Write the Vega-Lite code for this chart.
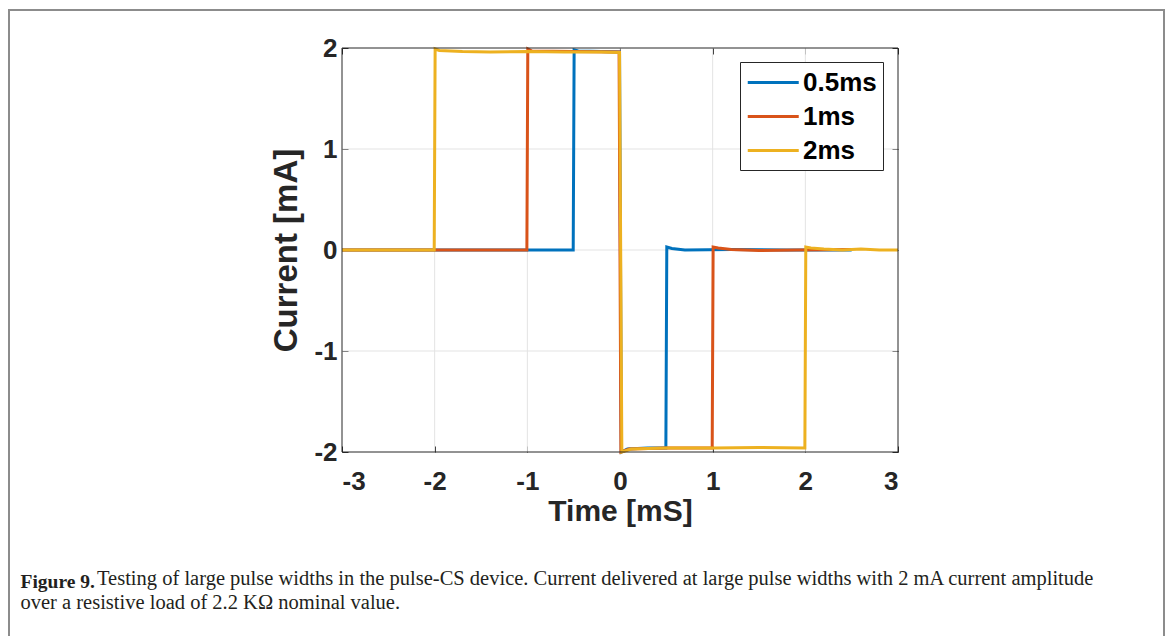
{
  "$schema": "https://vega.github.io/schema/vega-lite/v6.json",
  "autosize": "none",
  "width": 1155,
  "height": 640,
  "padding": {"left": 9, "top": 10, "right": 7, "bottom": 0},
  "background": "white",
  "config": {
    "view": {"stroke": "#8c8c8c", "strokeWidth": 2},
    "axis": {"labelFont": "Liberation Sans", "titleFont": "Liberation Sans", "labelColor": "#262626", "titleColor": "#262626", "tickColor": "#262626", "domainColor": "#262626", "grid": false}
  },
  "title": {
    "text": "Testing of large pulse widths in the pulse-CS device. Current delivered at large pulse widths with 2 mA current amplitude",
    "orient": "top",
    "anchor": "start",
    "frame": "group",
    "offset": -589,
    "dx": 88,
    "baseline": "middle",
    "font": "Liberation Serif",
    "fontSize": 20.5,
    "fontWeight": "normal",
    "color": "#231f20"
  },
  "resolve": {"axis": {"x": "independent", "y": "independent"}},
  "layer": [
    {
      "data": {"values": [{"g": -2}, {"g": -1}, {"g": 0}, {"g": 1}, {"g": 2}]},
      "mark": {"type": "rule", "color": "#e3e3e3", "strokeWidth": 1},
      "encoding": {
        "x": {"field": "g", "type": "quantitative", "scale": {"domain": [-3, 3], "range": [333, 889], "nice": false, "zero": false},
          "axis": {"orient": "top", "offset": -38, "values": [-3, -2, -1, 0, 1, 2, 3], "labels": false, "domain": false, "ticks": true, "tickSize": -6,
            "title": "Figure 9.", "titleFont": "Liberation Serif", "titleFontSize": 19.5, "titleFontWeight": "bold", "titleColor": "#231f20",
            "titleX": 11, "titleY": 533, "titleAngle": 0, "titleAlign": "left", "titleBaseline": "middle", "titleAnchor": null}},
        "y": {"datum": -2, "type": "quantitative", "axis": null},
        "y2": {"datum": 2}
      }
    },
    {
      "data": {"values": [{"g": -1}, {"g": 0}, {"g": 1}]},
      "mark": {"type": "rule", "color": "#e3e3e3", "strokeWidth": 1},
      "encoding": {
        "y": {"field": "g", "type": "quantitative", "scale": {"domain": [-2, 2], "range": [442, 38], "nice": false, "zero": false},
          "axis": {"orient": "right", "offset": -266, "values": [-2, -1, 0, 1, 2], "labels": false, "domain": false, "ticks": true, "tickSize": -6,
            "title": "over a resistive load of 2.2 KΩ nominal value.", "titleFont": "Liberation Serif", "titleFontSize": 20.5, "titleFontWeight": "normal", "titleColor": "#231f20",
            "titleX": -878, "titleY": 592, "titleAngle": 0, "titleAlign": "left", "titleBaseline": "middle", "titleAnchor": null}},
        "x": {"datum": -3, "type": "quantitative", "axis": null},
        "x2": {"datum": 3}
      }
    },
    {
      "data": {"values": [
        {"s": "0.5ms", "t": -3.0, "c": 0.0},
        {"s": "0.5ms", "t": -1.0, "c": 0.0},
        {"s": "0.5ms", "t": -0.505, "c": 0.0},
        {"s": "0.5ms", "t": -0.495, "c": 1.98},
        {"s": "0.5ms", "t": -0.45, "c": 1.97},
        {"s": "0.5ms", "t": -0.2, "c": 1.965},
        {"s": "0.5ms", "t": -0.005, "c": 1.96},
        {"s": "0.5ms", "t": 0.015, "c": -2.0},
        {"s": "0.5ms", "t": 0.08, "c": -1.97},
        {"s": "0.5ms", "t": 0.3, "c": -1.96},
        {"s": "0.5ms", "t": 0.495, "c": -1.96},
        {"s": "0.5ms", "t": 0.505, "c": 0.03},
        {"s": "0.5ms", "t": 0.56, "c": 0.015},
        {"s": "0.5ms", "t": 0.7, "c": 0.0},
        {"s": "0.5ms", "t": 1.2, "c": 0.005},
        {"s": "0.5ms", "t": 1.8, "c": 0.0},
        {"s": "0.5ms", "t": 2.5, "c": 0.0},
        {"s": "1ms", "t": -3.0, "c": 0.0},
        {"s": "1ms", "t": -2.0, "c": 0.0},
        {"s": "1ms", "t": -1.005, "c": 0.0},
        {"s": "1ms", "t": -0.995, "c": 1.99},
        {"s": "1ms", "t": -0.95, "c": 1.97},
        {"s": "1ms", "t": -0.5, "c": 1.965},
        {"s": "1ms", "t": -0.01, "c": 1.96},
        {"s": "1ms", "t": 0.01, "c": -2.0},
        {"s": "1ms", "t": 0.1, "c": -1.97},
        {"s": "1ms", "t": 0.5, "c": -1.96},
        {"s": "1ms", "t": 0.995, "c": -1.96},
        {"s": "1ms", "t": 1.005, "c": 0.03},
        {"s": "1ms", "t": 1.06, "c": 0.02},
        {"s": "1ms", "t": 1.2, "c": 0.005},
        {"s": "1ms", "t": 1.5, "c": -0.005},
        {"s": "1ms", "t": 1.9, "c": 0.0},
        {"s": "1ms", "t": 2.5, "c": 0.005},
        {"s": "2ms", "t": -3.0, "c": 0.0},
        {"s": "2ms", "t": -2.005, "c": 0.0},
        {"s": "2ms", "t": -1.995, "c": 1.99},
        {"s": "2ms", "t": -1.95, "c": 1.975},
        {"s": "2ms", "t": -1.7, "c": 1.965},
        {"s": "2ms", "t": -1.4, "c": 1.96},
        {"s": "2ms", "t": -1.0, "c": 1.965},
        {"s": "2ms", "t": -0.6, "c": 1.96},
        {"s": "2ms", "t": -0.2, "c": 1.96},
        {"s": "2ms", "t": -0.005, "c": 1.955},
        {"s": "2ms", "t": 0.02, "c": -2.0},
        {"s": "2ms", "t": 0.12, "c": -1.97},
        {"s": "2ms", "t": 0.5, "c": -1.96},
        {"s": "2ms", "t": 1.0, "c": -1.96},
        {"s": "2ms", "t": 1.5, "c": -1.955},
        {"s": "2ms", "t": 1.995, "c": -1.96},
        {"s": "2ms", "t": 2.005, "c": 0.03},
        {"s": "2ms", "t": 2.06, "c": 0.02},
        {"s": "2ms", "t": 2.2, "c": 0.01},
        {"s": "2ms", "t": 2.4, "c": 0.0},
        {"s": "2ms", "t": 2.6, "c": 0.01},
        {"s": "2ms", "t": 2.8, "c": 0.0},
        {"s": "2ms", "t": 3.0, "c": 0.0}
      ]},
      "mark": {"type": "line", "strokeWidth": 3},
      "encoding": {
        "x": {"field": "t", "type": "quantitative", "scale": {"domain": [-3, 3], "range": [333, 889], "nice": false, "zero": false},
          "axis": {"orient": "bottom", "offset": -198, "values": [-3, -2, -1, 0, 1, 2, 3], "domain": false, "tickSize": -6, "labelPadding": 22,
            "labelExpr": "replace(datum.label, '\u2212', '-')",
            "labelFontSize": 26, "labelFontWeight": "bold", "title": "Time [mS]", "titleFontSize": 30, "titleFontWeight": "bold", "titlePadding": 2}},
        "y": {"field": "c", "type": "quantitative", "scale": {"domain": [-2, 2], "range": [442, 38], "nice": false, "zero": false},
          "axis": {"orient": "left", "offset": -333, "values": [-2, -1, 0, 1, 2], "domain": false, "tickSize": -6, "labelPadding": 11,
            "labelExpr": "replace(datum.label, '\u2212', '-')",
            "labelFontSize": 26, "labelFontWeight": "bold", "title": "Current [mA]", "titleFontSize": 33, "titleFontWeight": "bold", "titlePadding": 10}},
        "color": {"field": "s", "type": "nominal",
          "scale": {"domain": ["0.5ms", "1ms", "2ms"], "range": ["#0072BD", "#D95319", "#EDB120"]},
          "legend": {"orient": "none", "legendX": 731, "legendY": 52, "title": null,
            "strokeColor": "#262626", "fillColor": "white", "padding": 6,
            "symbolType": "M-1,0H3", "symbolSize": 650, "symbolStrokeWidth": 3, "labelOffset": 28,
            "labelFont": "Liberation Sans", "labelFontSize": 26, "labelFontWeight": "bold", "labelColor": "#000000",
            "rowPadding": 6}}
      }
    },
    {
      "data": {"values": [{"x0": -3, "x1": 3, "y0": -2, "y1": 2}]},
      "mark": {"type": "rect", "filled": false, "stroke": "#262626", "strokeWidth": 1},
      "encoding": {
        "x": {"field": "x0", "type": "quantitative", "axis": null},
        "x2": {"field": "x1"},
        "y": {"field": "y0", "type": "quantitative", "axis": null},
        "y2": {"field": "y1"}
      }
    }
  ]
}
